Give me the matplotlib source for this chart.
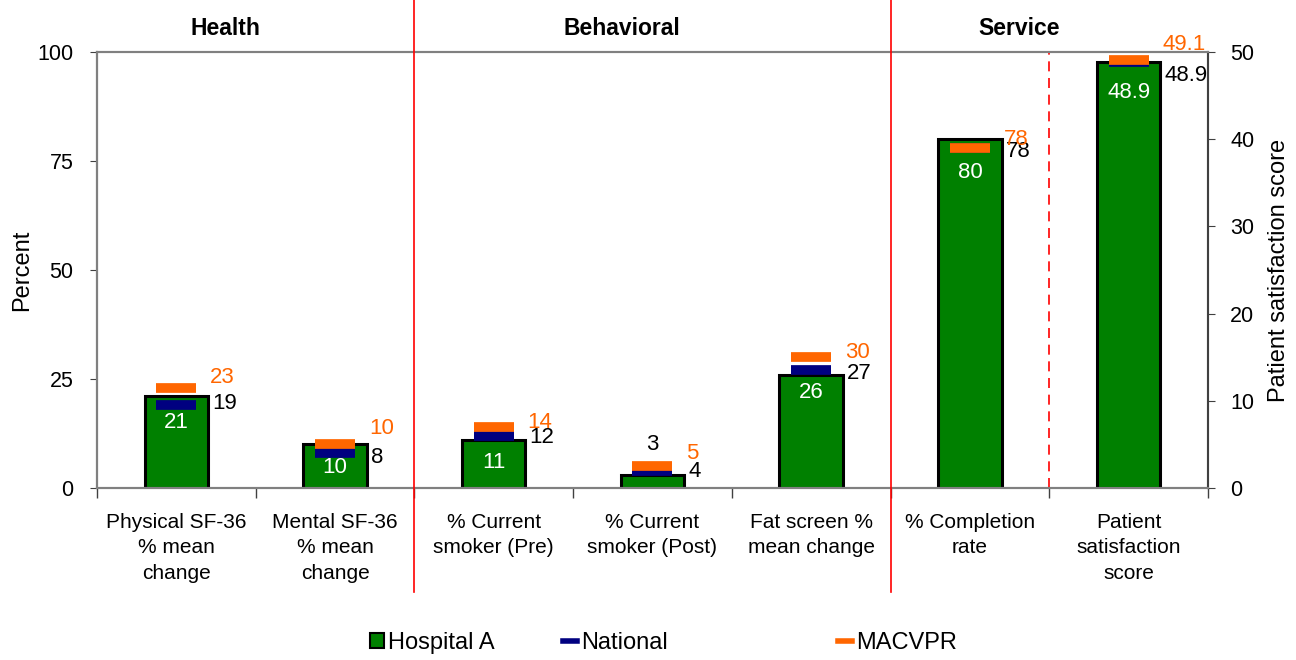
import numpy as np
import matplotlib.pyplot as plt
from matplotlib.lines import Line2D
from matplotlib.patches import Patch
import matplotlib.transforms as mtransforms

plt.rcParams['font.family'] = ['Liberation Sans', 'DejaVu Sans']

categories = ["Physical SF-36\n% mean\nchange", "Mental SF-36\n% mean\nchange",
              "% Current\nsmoker (Pre)", "% Current\nsmoker (Post)",
              "Fat screen %\nmean change", "% Completion\nrate",
              "Patient\nsatisfaction\nscore"]
hospital = [21, 10, 11, 3, 26, 80, 48.9]
national = [19, 8, 12, 4, 27, 78, 48.9]
macvpr = [23, 10, 14, 5, 30, 78, 49.1]
groups = ["Health", "Behavioral", "Service"]
group_centers = [0.5, 3.0, 5.5]
legend_labels = ["Hospital A", "National", "MACVPR"]
score_idx = 6  # this one goes on the right axis (0-50)

# label nudges in pixels (Excel put them a bit all over the place)
hosp_dy = [-26, -23, -22, 30, -18, -33, -31]
nat_dy = [2, -4, -2, -1, -3, -4, -14]
mac_dy = [10, 16, 4, 13, 5, 8, 15]
legend_x = [370, 563, 838]

GREEN, NAVY, ORANGE, RED, GRAY = "#008000", "#000080", "#FF6600", "#FF0000", "#808080"
px = 0.72  # pixels -> points at dpi 100

fig = plt.figure(figsize=(12.96, 6.6), dpi=100)
ax = fig.add_axes([0.0748, 0.2606, 0.8573, 0.6606])
ax2 = ax.twinx()

x = np.arange(len(categories))
for i in x:
    a = ax2 if i == score_idx else ax
    a.bar(i, hospital[i], width=0.4, color=GREEN, edgecolor="black", linewidth=2.2, zorder=2)
    a.plot(i, national[i], marker="_", markersize=29.5, markeredgewidth=7, color=NAVY, zorder=3)
    a.plot(i, macvpr[i], marker="_", markersize=29.5, markeredgewidth=7, color=ORANGE, zorder=4)
    inside = hosp_dy[i] < 0
    a.annotate(f"{hospital[i]:g}", (i, hospital[i]), xytext=(0, hosp_dy[i] * px),
               textcoords="offset points", ha="center", va="center", fontsize=16,
               color="white" if inside else "black", zorder=5)
    a.annotate(f"{national[i]:g}", (i + 0.2, national[i]), xytext=(4 * px, nat_dy[i] * px),
               textcoords="offset points", ha="left", va="center", fontsize=16,
               color="black", zorder=5)
    a.annotate(f"{macvpr[i]:g}", (i + 0.2, macvpr[i]), xytext=(2 * px, mac_dy[i] * px),
               textcoords="offset points", ha="left", va="center", fontsize=16,
               color=ORANGE, zorder=5, annotation_clip=False)

ax.set_xlim(-0.5, 6.5)
ax.set_ylim(0, 100)
ax2.set_ylim(0, 50)
ax.set_yticks([0, 25, 50, 75, 100])
ax2.set_yticks(range(0, 51, 10))

# boundary ticks without labels, labels at the centres
ax.set_xticks(np.arange(-0.5, 7, 1))
ax.set_xticklabels([])
ax.set_xticks(x, minor=True)
ax.set_xticklabels(categories, minor=True, fontsize=15, linespacing=1.42)
ax.tick_params(axis="x", which="major", length=7, color="#404040", width=1)
ax.tick_params(axis="x", which="minor", length=0, pad=18)
ax.tick_params(axis="y", labelsize=15.5, length=5, color="#404040", pad=12)
ax2.tick_params(axis="y", labelsize=15.5, length=5, color="#404040", pad=11)

for a in (ax, ax2):
    for s in a.spines.values():
        s.set_color(GRAY)
        s.set_linewidth(1.5)
ax.spines["left"].set_color("#404040")
ax2.spines["right"].set_color("#404040")

ax.set_ylabel("Percent", fontsize=17, labelpad=3)
ax2.set_ylabel("Patient satisfaction score", fontsize=17, labelpad=10)

# group dividers and headers
trans = mtransforms.blended_transform_factory(ax.transData, ax.transAxes)
for b in (1.5, 4.5):
    ax2.add_line(Line2D([b, b], [-0.2385, 1.119], transform=trans, color=RED,
                        linewidth=1.2, clip_on=False, zorder=6))
ax2.add_line(Line2D([5.5, 5.5], [0, 1], transform=trans, color=RED, linewidth=1.2,
                    linestyle=(0, (6, 4)), zorder=1))
for g, c in zip(groups, group_centers):
    ax.text(c - 0.19, 1.054, g, transform=trans, ha="center", va="center",
            fontsize=16.5, fontweight="bold")

handles = [Patch(facecolor=GREEN, edgecolor="black", linewidth=1.5),
           Line2D([], [], color=NAVY, linewidth=4),
           Line2D([], [], color=ORANGE, linewidth=4)]
for h, lab, lx in zip(handles, legend_labels, legend_x):
    fig.legend([h], [lab], loc="center left", bbox_to_anchor=(lx / 1296, 1 - 643 / 660),
               frameon=False, fontsize=17, handlelength=0.6, handleheight=0.6,
               handletextpad=0.15, borderpad=0, borderaxespad=0)

fig.savefig("out.png", dpi=100)
